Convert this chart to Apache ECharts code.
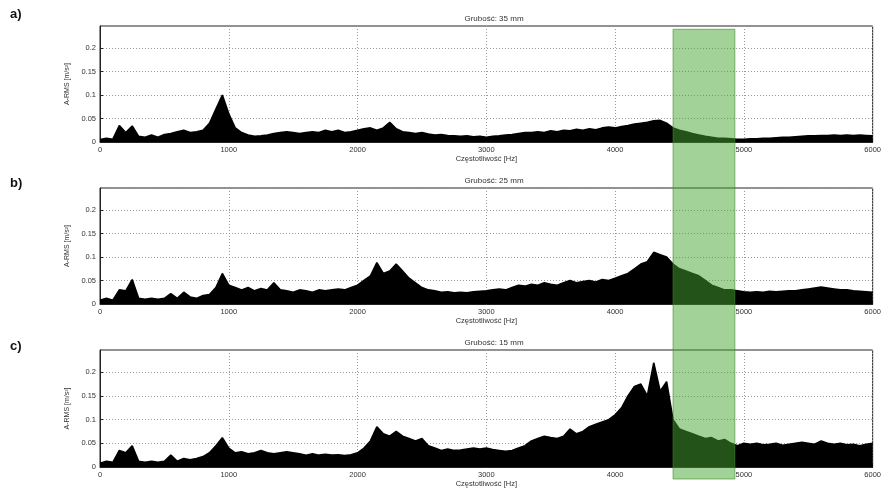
<!DOCTYPE html>
<html><head><meta charset="utf-8">
<script src="https://cdn.jsdelivr.net/npm/echarts@6/dist/echarts.min.js"></script>
<style>html,body{margin:0;padding:0;background:#fff}#c{width:884px;height:493px}</style>
</head><body><div id="c"></div>
<script>
// Tick labels / categories
const panelLabels = ['a)', 'b)', 'c)'];
const panelTitles = ['Grubość: 35 mm', 'Grubość: 25 mm', 'Grubość: 15 mm'];
const xAxisName = 'Częstotliwość [Hz]';
const yAxisName = 'A-RMS [m/s²]';
const xTicks = [0, 1000, 2000, 3000, 4000, 5000, 6000];
const yTicks = [0, 0.05, 0.1, 0.15, 0.2];
const freqStep = 50; // Hz between samples, 0..6000
const highlightBand = [4450, 4930]; // Hz

// Spectrum envelopes (A-RMS), one value per 50 Hz from 0 to 6000 Hz
const spec35 = [
0.005,0.008,0.006,0.035,0.020,0.034,0.012,0.010,0.015,0.010,
0.016,0.018,0.022,0.025,0.020,0.022,0.025,0.040,0.070,0.100,
0.060,0.030,0.020,0.015,0.012,0.013,0.015,0.018,0.020,0.022,
0.020,0.018,0.020,0.022,0.020,0.025,0.022,0.025,0.020,0.022,
0.025,0.028,0.030,0.025,0.030,0.042,0.028,0.022,0.020,0.018,
0.020,0.017,0.015,0.016,0.014,0.013,0.012,0.013,0.011,0.012,
0.010,0.012,0.013,0.015,0.016,0.018,0.020,0.020,0.022,0.020,
0.024,0.022,0.025,0.024,0.027,0.025,0.028,0.026,0.030,0.032,
0.030,0.033,0.035,0.038,0.040,0.042,0.045,0.046,0.040,0.030,
0.025,0.022,0.018,0.015,0.012,0.010,0.008,0.008,0.007,0.006,
0.006,0.007,0.007,0.008,0.008,0.009,0.010,0.010,0.011,0.012,
0.013,0.013,0.014,0.014,0.015,0.014,0.015,0.014,0.015,0.014,
0.013];
const spec25 = [
0.008,0.012,0.008,0.030,0.028,0.052,0.012,0.010,0.012,0.010,
0.012,0.022,0.012,0.025,0.015,0.012,0.018,0.020,0.035,0.065,
0.040,0.035,0.030,0.035,0.028,0.033,0.030,0.045,0.030,0.028,
0.025,0.030,0.028,0.025,0.030,0.028,0.030,0.032,0.030,0.035,
0.040,0.050,0.060,0.088,0.065,0.070,0.085,0.070,0.055,0.045,
0.035,0.030,0.028,0.025,0.026,0.024,0.025,0.024,0.026,0.027,
0.028,0.030,0.032,0.030,0.035,0.040,0.038,0.042,0.040,0.045,
0.042,0.040,0.045,0.050,0.045,0.048,0.050,0.047,0.052,0.050,
0.055,0.060,0.065,0.075,0.085,0.090,0.110,0.105,0.100,0.085,
0.075,0.070,0.065,0.060,0.050,0.040,0.035,0.030,0.030,0.028,
0.026,0.025,0.026,0.025,0.027,0.026,0.027,0.028,0.028,0.030,
0.032,0.034,0.036,0.034,0.032,0.030,0.030,0.028,0.027,0.026,
0.025];
const spec15 = [
0.008,0.012,0.010,0.035,0.030,0.045,0.012,0.010,0.012,0.010,
0.012,0.025,0.012,0.018,0.015,0.018,0.022,0.030,0.045,0.062,
0.040,0.030,0.032,0.028,0.030,0.035,0.030,0.028,0.030,0.032,
0.030,0.028,0.025,0.028,0.025,0.027,0.025,0.026,0.024,0.026,
0.030,0.040,0.055,0.085,0.070,0.065,0.075,0.065,0.060,0.055,
0.060,0.045,0.040,0.035,0.038,0.035,0.036,0.038,0.040,0.038,
0.040,0.037,0.035,0.033,0.035,0.040,0.045,0.055,0.060,0.065,
0.062,0.060,0.065,0.080,0.070,0.075,0.085,0.090,0.095,0.100,
0.110,0.125,0.150,0.170,0.175,0.150,0.220,0.160,0.180,0.100,
0.080,0.075,0.070,0.065,0.060,0.062,0.055,0.058,0.050,0.045,
0.050,0.048,0.050,0.047,0.048,0.050,0.046,0.048,0.050,0.052,
0.050,0.048,0.055,0.050,0.048,0.050,0.047,0.048,0.045,0.048,
0.050];
const spectra = [spec35, spec25, spec15];

const FONT = 'Liberation Sans';
const grids = [
  {left: 100, right: 6, top: 26, height: 116},
  {left: 100, right: 6, top: 188, height: 116},
  {left: 100, right: 6, top: 350, height: 117}
];
const labelTops = [8, 177, 340];
const chart = echarts.init(document.getElementById('c'), null, {renderer: 'canvas'});

const option = {
  animation: false,
  backgroundColor: '#fff',
  title: panelTitles.map((t, i) => ({
    text: t, left: 489, top: grids[i].top - 16, textAlign: 'center',
    textStyle: {fontFamily: FONT, fontSize: 8, fontWeight: 'normal', color: '#333'}
  })),
  grid: grids.map(g => Object.assign({show: true, borderColor: '#222', borderWidth: 1}, g)),
  graphic: panelLabels.map((t, i) => ({
    type: 'text', left: 10, top: labelTops[i],
    style: {text: t, fontFamily: FONT, fontSize: 13, fontWeight: 'bold', fill: '#111'}
  })),
  xAxis: grids.map((g, i) => ({
    type: 'value', gridIndex: i, min: 0, max: 6000, interval: 1000,
    name: xAxisName, nameLocation: 'middle', nameGap: 13,
    nameTextStyle: {fontFamily: FONT, fontSize: 7.5, color: '#333'},
    axisLine: {show: true, onZero: false, lineStyle: {color: '#222', width: 1}},
    axisTick: {show: true, inside: true, length: 3, lineStyle: {color: '#222'}},
    axisLabel: {fontFamily: FONT, fontSize: 7.5, color: '#333', margin: 4,
      formatter: v => xTicks.includes(v) ? String(v) : ''},
    splitLine: {show: true, lineStyle: {color: '#999', type: [1, 2], width: 1}}
  })),
  yAxis: grids.map((g, i) => ({
    type: 'value', gridIndex: i, min: 0, max: 0.247, interval: 0.05,
    name: yAxisName, nameLocation: 'middle', nameGap: 22,
    nameTextStyle: {fontFamily: FONT, fontSize: 7, color: '#333'},
    axisLine: {show: true, lineStyle: {color: '#222', width: 1}},
    axisTick: {show: true, inside: true, length: 3, lineStyle: {color: '#222'}},
    axisLabel: {fontFamily: FONT, fontSize: 7.5, color: '#333', margin: 4, showMaxLabel: false,
      formatter: v => yTicks.some(t => Math.abs(t - v) < 1e-9) ? String(+v.toFixed(2)) : ''},
    splitLine: {show: true, lineStyle: {color: '#999', type: [1, 2], width: 1}}
  })),
  series: spectra.map((arr, i) => ({
    type: 'line', xAxisIndex: i, yAxisIndex: i, showSymbol: false, silent: true,
    data: arr.map((v, k) => [k * freqStep, v]),
    lineStyle: {color: '#000', width: 1.6},
    areaStyle: {color: '#000', opacity: 1}
  }))
};
chart.setOption(option);

// Highlight band spanning all three panels, positioned through the axes' scales
const x0 = chart.convertToPixel({xAxisIndex: 0}, highlightBand[0]);
const x1 = chart.convertToPixel({xAxisIndex: 0}, highlightBand[1]);
const yTop = chart.convertToPixel({yAxisIndex: 0}, 0.24);
const yBot = chart.convertToPixel({yAxisIndex: 2}, 0) + 12;
chart.setOption({
  graphic: [...option.graphic, {
    type: 'rect', z: 100, silent: true,
    shape: {x: x0, y: yTop, width: x1 - x0, height: yBot - yTop},
    style: {fill: 'rgba(70,165,50,0.5)', stroke: 'rgba(60,140,40,0.6)', lineWidth: 1}
  }]
});
</script>
</body></html>
